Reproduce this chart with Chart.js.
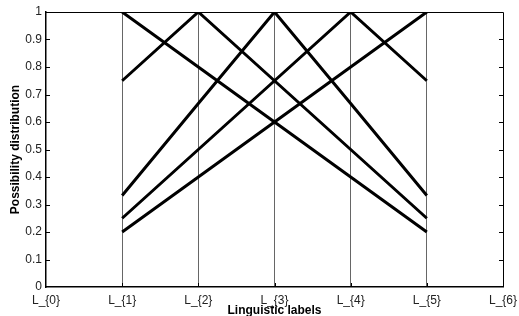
<!DOCTYPE html>
<html>
<head>
<meta charset="utf-8">
<script src="https://cdn.jsdelivr.net/npm/chart.js@4/dist/chart.umd.min.js"></script>
<style>
html,body{margin:0;padding:0;background:#fff;}
#wrap{width:519px;height:316px;}
</style>
</head>
<body>
<div id="wrap"><canvas id="c" width="519" height="316" style="width:519px;height:316px"></canvas></div>
<script>
const categories = ['L_{0}','L_{1}','L_{2}','L_{3}','L_{4}','L_{5}','L_{6}'];
const yTickLabels = ['0','0.1','0.2','0.3','0.4','0.5','0.6','0.7','0.8','0.9','1'];
const series1 = [null, 1, 0.8, 0.6, 0.4, 0.2, null];
const series2 = [null, 0.75, 1, 0.75, 0.5, 0.25, null];
const series3 = [null, 0.333, 0.667, 1, 0.667, 0.333, null];
const series4 = [null, 0.25, 0.5, 0.75, 1, 0.75, null];
const series5 = [null, 0.2, 0.4, 0.6, 0.8, 1, null];
const xTitle = 'Linguistic labels';
const yTitle = 'Possibility distribution';

const FONT = "'Liberation Sans', Arial, Helvetica, sans-serif";

function ds(data){
  return {data, borderColor:'#000', borderWidth:3, pointRadius:0, fill:false, tension:0, spanGaps:false};
}

const boxPlugin = {
  id:'box',
  afterDraw(chart){
    const {ctx, chartArea:a, scales} = chart;
    ctx.save();
    ctx.strokeStyle = '#000';
    ctx.lineWidth = 1;
    ctx.beginPath();
    ctx.moveTo(a.left, a.top+0.5); ctx.lineTo(a.right+0.5, a.top+0.5);
    ctx.lineTo(a.right+0.5, a.bottom);
    ctx.stroke();
    ctx.beginPath();
    for (let i=1;i<yTickLabels.length-1;i++){
      const y = Math.round(scales.y.getPixelForValue(parseFloat(yTickLabels[i])))+0.5;
      ctx.moveTo(a.left, y); ctx.lineTo(a.left+4, y);
      ctx.moveTo(a.right, y); ctx.lineTo(a.right-4, y);
    }
    for (let i=1;i<categories.length-1;i++){
      const x = Math.round(scales.x.getPixelForValue(i))+0.5;
      ctx.moveTo(x, a.bottom); ctx.lineTo(x, a.bottom-4);
    }
    ctx.stroke();
    ctx.restore();
  }
};

new Chart(document.getElementById('c'), {
  type:'line',
  data:{
    labels:categories,
    datasets:[ds(series1),ds(series2),ds(series3),ds(series4),ds(series5)]
  },
  options:{
    responsive:false,
    animation:false,
    devicePixelRatio:1,
    layout:{padding:{top:12,right:0,left:0,bottom:0}},
    plugins:{legend:{display:false},tooltip:{enabled:false}},
    scales:{
      x:{
        type:'category',
        offset:false,
        grid:{
          color:(c)=> (c.index===0||c.index===categories.length-1)?'rgba(0,0,0,0)':'#666',
          lineWidth:1,
          drawTicks:false
        },
        border:{display:true,color:'#000',width:1.5},
        ticks:{color:'#222',font:{family:FONT,size:12},padding:6,maxRotation:0,autoSkip:false},
        title:{display:true,text:xTitle,color:'#000',font:{family:FONT,size:12,weight:'bold'},padding:{top:0,bottom:-2}},
        afterFit(s){ s.height = 29; s.paddingRight = 16; s.paddingLeft = 0; }
      },
      y:{
        min:0,max:1,
        grid:{display:false,drawTicks:false},
        border:{display:true,color:'#000',width:1.5},
        ticks:{stepSize:0.1,color:'#222',font:{family:FONT,size:12},padding:4,
          callback:(v,i)=>yTickLabels[i]},
        title:{display:true,text:yTitle,color:'#000',font:{family:FONT,size:12,weight:'bold'},padding:{top:8,bottom:0}},
        afterFit(s){ s.width = 46; }
      }
    }
  },
  plugins:[boxPlugin]
});
</script>
</body>
</html>
